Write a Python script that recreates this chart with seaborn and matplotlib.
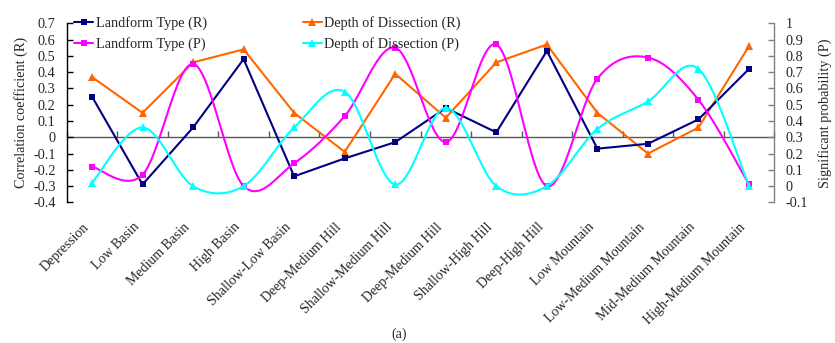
import numpy as np
import pandas as pd
import matplotlib
matplotlib.use("Agg")
import matplotlib.pyplot as plt
import matplotlib.transforms as mtransforms
from matplotlib.lines import Line2D
import seaborn as sns


# DATA
categories = [
    "Depression", "Low Basin", "Medium Basin", "High Basin", "Shallow-Low Basin",
    "Deep-Medium Hill", "Shallow-Medium Hill", "Deep-Medium Hill", "Shallow-High Hill",
    "Deep-High Hill", "Low Mountain", "Low-Medium Mountain", "Mid-Medium Mountain",
    "High-Medium Mountain",
]
landform_r = [0.25, -0.29, 0.06, 0.48, -0.24, -0.13, -0.03, 0.18, 0.03, 0.53, -0.07, -0.04, 0.11, 0.42]
dissection_r = [0.37, 0.15, 0.46, 0.54, 0.15, -0.09, 0.39, 0.12, 0.46, 0.57, 0.15, -0.10, 0.06, 0.56]
landform_p = [0.12, 0.07, 0.75, 0.00, 0.14, 0.43, 0.85, 0.27, 0.87, 0.00, 0.66, 0.79, 0.53, 0.01]
dissection_p = [0.02, 0.36, 0.00, 0.00, 0.36, 0.58, 0.01, 0.48, 0.00, 0.00, 0.35, 0.52, 0.72, 0.00]

r_ticks = [-0.4, -0.3, -0.2, -0.1, 0, 0.1, 0.2, 0.3, 0.4, 0.5, 0.6, 0.7]
p_ticks = [-0.1, 0, 0.1, 0.2, 0.3, 0.4, 0.5, 0.6, 0.7, 0.8, 0.9, 1]

NAVY = "#000080"
ORANGE = "#FF6600"
MAGENTA = "#FF00FF"
CYAN = "#00FFFF"


def smooth_curve(x, y, steps=30):
    # Excel style smoothed line (Catmull-Rom through the points)
    x = np.asarray(x, float)
    y = np.asarray(y, float)
    px = np.concatenate([[x[0]], x, [x[-1]]])
    py = np.concatenate([[y[0]], y, [y[-1]]])
    xs, ys = [], []
    t = np.linspace(0, 1, steps, endpoint=False)
    h00 = 2 * t**3 - 3 * t**2 + 1
    h10 = t**3 - 2 * t**2 + t
    h01 = -2 * t**3 + 3 * t**2
    h11 = t**3 - t**2
    for i in range(len(x) - 1):
        j = i + 1
        mx0 = (px[j + 1] - px[j - 1]) / 2
        my0 = (py[j + 1] - py[j - 1]) / 2
        mx1 = (px[j + 2] - px[j]) / 2
        my1 = (py[j + 2] - py[j]) / 2
        xs.append(h00 * x[i] + h10 * mx0 + h01 * x[i + 1] + h11 * mx1)
        ys.append(h00 * y[i] + h10 * my0 + h01 * y[i + 1] + h11 * my1)
    xs.append([x[-1]])
    ys.append([y[-1]])
    return np.concatenate(xs), np.concatenate(ys)


sns.set_style("white")
plt.rcParams["font.family"] = ["Liberation Serif", "DejaVu Serif"]
plt.rcParams["font.size"] = 10.3

x = np.arange(len(categories))
df = pd.DataFrame({
    "x": x,
    "landform_r": landform_r,
    "dissection_r": dissection_r,
    "landform_p": landform_p,
    "dissection_p": dissection_p,
})

fig, ax = plt.subplots(figsize=(8.35, 3.43), dpi=100)
fig.subplots_adjust(left=0.0799, right=0.9273, top=0.932, bottom=0.41)

# LEFT AXIS: correlation coefficient
sns.lineplot(data=df, x="x", y="dissection_r", ax=ax, color=ORANGE, lw=1.5,
             marker="^", markersize=6, markeredgecolor=ORANGE, markeredgewidth=0)
sns.lineplot(data=df, x="x", y="landform_r", ax=ax, color=NAVY, lw=1.5,
             marker="s", markersize=4.6, markeredgecolor=NAVY, markeredgewidth=0)

ax.set_xlim(-0.5, len(categories) - 0.5)
ax.set_ylim(r_ticks[0], r_ticks[-1])
ax.set_yticks(r_ticks, labels=[f"{v:g}" for v in r_ticks])
ax.set_xticks(x, labels=categories, rotation=45, ha="right", rotation_mode="anchor")
ax.tick_params(axis="x", length=0, pad=13, labelsize=10)
ax.tick_params(axis="y", direction="in", length=4, width=1, color="black", pad=8, left=True)
shift = mtransforms.ScaledTranslation(-0.10, 0, fig.dpi_scale_trans)
for lab in ax.get_xticklabels():
    lab.set_transform(lab.get_transform() + shift)
ax.set_xlabel("")
ax.set_ylabel("Correlation coefficient (R)", labelpad=4)
for side in ["top", "right", "bottom"]:
    ax.spines[side].set_visible(False)
ax.spines["left"].set_color("black")
ax.spines["left"].set_linewidth(1)

# zero line with category boundary ticks
zero_pos = (0 - r_ticks[0]) / (r_ticks[-1] - r_ticks[0])
zax = ax.secondary_xaxis(zero_pos)
zax.set_xticks(np.arange(len(categories) + 1) - 0.5, labels=[])
zax.tick_params(direction="in", length=4, width=1, color="#595959")
zax.spines["bottom"].set_color("#595959")
zax.spines["bottom"].set_linewidth(1)

# RIGHT AXIS: significant probability
ax2 = ax.twinx()
lx, ly = smooth_curve(x, landform_p)
dx, dy = smooth_curve(x, dissection_p)
sns.lineplot(x=lx, y=ly, ax=ax2, sort=False, estimator=None, color=MAGENTA, lw=1.5)
ax2.plot(x, landform_p, ls="none", marker="s", markersize=4.6, color=MAGENTA, markeredgewidth=0)
sns.lineplot(x=dx, y=dy, ax=ax2, sort=False, estimator=None, color=CYAN, lw=1.5)
ax2.plot(x, dissection_p, ls="none", marker="^", markersize=6, color=CYAN, markeredgewidth=0)

ax2.set_ylim(p_ticks[0], p_ticks[-1])
ax2.set_yticks(p_ticks, labels=[f"{v:g}" for v in p_ticks])
ax2.tick_params(axis="y", direction="in", length=4, width=1, color="#808080", pad=8, right=True)
ax2.set_ylabel("Significant probability (P)", labelpad=7)
for side in ["top", "left", "bottom"]:
    ax2.spines[side].set_visible(False)
ax2.spines["right"].set_color("#808080")
ax2.spines["right"].set_linewidth(1)

# LEGEND
handles = [
    Line2D([], [], color=NAVY, lw=1.5, marker="s", markersize=4.6, markeredgewidth=0),
    Line2D([], [], color=MAGENTA, lw=1.5, marker="s", markersize=4.6, markeredgewidth=0),
    Line2D([], [], color=ORANGE, lw=1.5, marker="^", markersize=6, markeredgewidth=0),
    Line2D([], [], color=CYAN, lw=1.5, marker="^", markersize=6, markeredgewidth=0),
]
labels = ["Landform Type (R)", "Landform Type (P)", "Depth of Dissection (R)", "Depth of Dissection (P)"]
ax2.legend(handles, labels, ncol=2, frameon=False, loc="upper left",
           bbox_to_anchor=(0.011, 1.042), borderpad=0, borderaxespad=0,
           handlelength=1.3, handletextpad=0.2, columnspacing=6.7, labelspacing=0.5)

fig.text(399 / 835, 1 - 334 / 343, "(a)", ha="center", va="center", fontsize=10)

fig.savefig("out.png", dpi=100)
plt.close(fig)
